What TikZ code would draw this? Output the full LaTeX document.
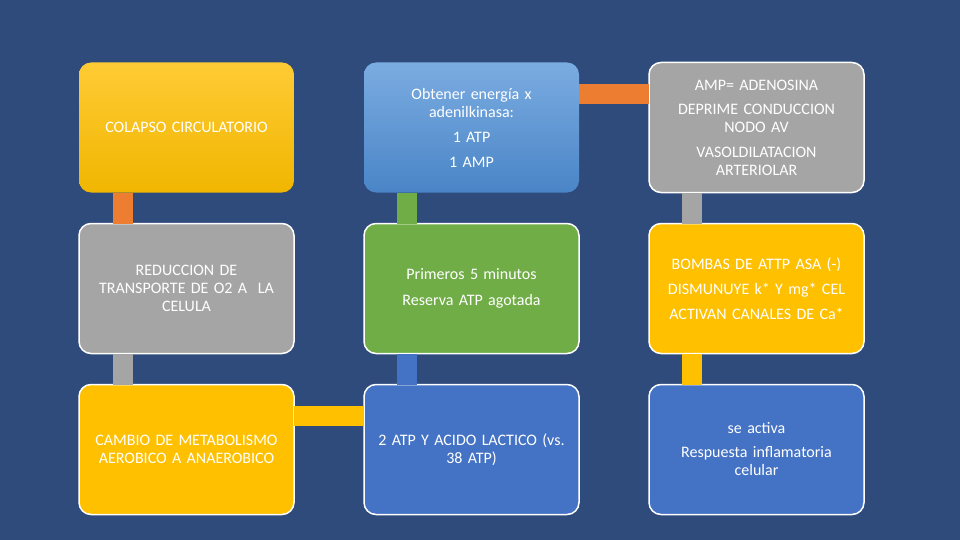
\documentclass[tikz,border=0pt]{standalone}
\usepackage{fontspec}
\setmainfont{Carlito}
\usetikzlibrary{positioning}

\definecolor{bgblue}{HTML}{2F4B7C}
\definecolor{cyellow}{HTML}{FFC000}
\definecolor{cyellowtop}{HTML}{FFCB35}
\definecolor{cyellowbot}{HTML}{F0B600}
\definecolor{cgray}{HTML}{A5A5A5}
\definecolor{cgreen}{HTML}{70AD47}
\definecolor{cblue}{HTML}{4472C4}
\definecolor{cskytop}{HTML}{7BACE1}
\definecolor{cskymid}{HTML}{5A97D7}
\definecolor{cskybot}{HTML}{4A85C7}
\definecolor{corange}{HTML}{ED7D31}

\begin{document}
\begin{tikzpicture}[
    x=1pt, y=1pt,
    box/.style={rectangle, rounded corners=12pt, minimum width=215pt, minimum height=130pt,
        text width=208pt, align=center, text=white, outer sep=0pt,
        font=\fontsize{16}{18}\selectfont, draw=white, line width=1.5pt},
    link/.style={line width=20pt}
]

% background
\fill[bgblue] (0,0) rectangle (960,-540);
\useasboundingbox (0,0) rectangle (960,-540);

% ROW 1
\node[box, draw=none, top color=cyellowtop, middle color=cyellow, bottom color=cyellowbot] (colapso) at (186.5,-127.5) {COLAPSO CIRCULATORIO};
\node[box, draw=none, top color=cskytop, middle color=cskymid, bottom color=cskybot, right=70pt of colapso] (energia)
    {Obtener energía x\\adenilkinasa:\\[7pt]1 ATP\\[7pt]1 AMP};
\node[box, fill=cgray, right=70pt of energia] (amp)
    {AMP= ADENOSINA\\[6pt]DEPRIME CONDUCCION\\NODO AV\\[7pt]VASOLDILATACION\\ARTERIOLAR};

% ROW 2
\node[box, fill=cgray, below=31pt of colapso] (reduccion) {REDUCCION DE\\TRANSPORTE DE O2 A\ \ LA\\CELULA};
\node[box, fill=cgreen, below=31pt of energia] (primeros) {Primeros 5 minutos\\[8pt]Reserva ATP agotada};
\node[box, fill=cyellow, below=31pt of amp] (bombas)
    {BOMBAS DE ATTP ASA (-)\\[7pt]DISMUNUYE k* Y mg* CEL\\[7pt]ACTIVAN CANALES DE Ca*};

% ROW 3
\node[box, fill=cyellow, below=31pt of reduccion] (cambio) {CAMBIO DE METABOLISMO\\AEROBICO A ANAEROBICO};
\node[box, fill=cblue, below=31pt of primeros] (lactico) {2 ATP Y ACIDO LACTICO (vs.\\38 ATP)};
\node[box, fill=cblue, below=31pt of bombas] (respuesta) {se activa\\[6pt]Respuesta inflamatoria\\celular};

% connectors
\draw[link, corange] ([xshift=44pt]colapso.south west) -- ([xshift=44pt]reduccion.north west);
\draw[link, cgray] ([xshift=44pt]reduccion.south west) -- ([xshift=44pt]cambio.north west);
\draw[link, cyellow] ([yshift=-31pt]cambio.north east) -- ([yshift=-31pt]lactico.north west);
\draw[link, cblue] ([xshift=43pt]lactico.north west) -- ([xshift=43pt]primeros.south west);
\draw[link, cgreen] ([xshift=43pt]primeros.north west) -- ([xshift=43pt]energia.south west);
\draw[link, corange] ([yshift=-32pt]energia.north east) -- ([yshift=-32pt]amp.north west);
\draw[link, cgray] ([xshift=43pt]amp.south west) -- ([xshift=43pt]bombas.north west);
\draw[link, cyellow] ([xshift=43pt]bombas.south west) -- ([xshift=43pt]respuesta.north west);
\end{tikzpicture}
\end{document}
